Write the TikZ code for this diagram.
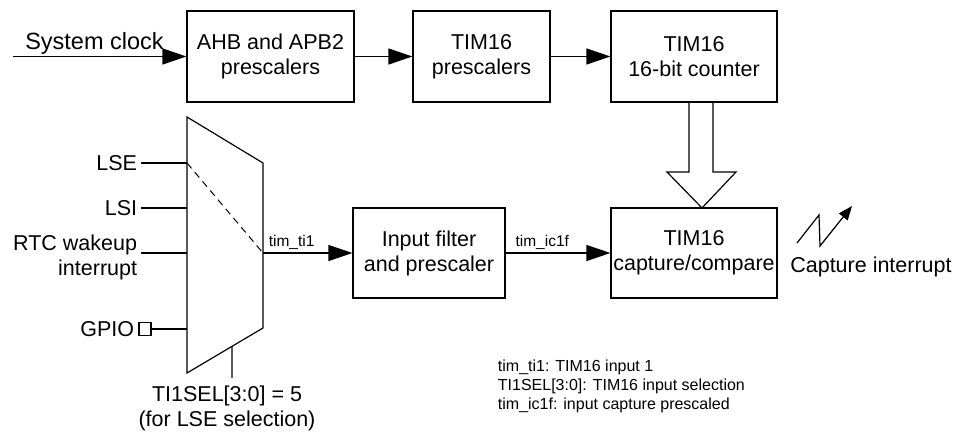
\documentclass[tikz,border=0pt]{standalone}
\usepackage{fontspec}
\setmainfont{Liberation Sans}
\usetikzlibrary{arrows.meta,calc}
\newcommand{\boxfont}{\fontsize{21.5}{25}\selectfont}
\newcommand{\notefont}{\fontsize{15.5}{19}\selectfont}
\tikzset{
  blk/.style={draw,align=center,inner sep=2pt,font=\boxfont},
  lbl/.style={align=center,font=\boxfont},
  sig/.style={font=\notefont,inner sep=3pt}
}
\begin{document}
\begin{tikzpicture}[x=1pt,y=-1pt,line width=1.2pt,>={Triangle[length=24pt,width=16pt]}]
\useasboundingbox (0,0) rectangle (959,435);
% clock chain
\node[blk,minimum width=167pt,minimum height=91pt] (ahb) at (270.5,56.5) {AHB and APB2\\prescalers};
\node[blk,minimum width=137pt,minimum height=91pt] (psc) at (481.5,56.5) {TIM16\\prescalers};
\node[blk,minimum width=166pt,minimum height=91pt] (cnt) at (694,56.5) {TIM16\\16-bit counter};
\coordinate (clkin) at (13,56.5);
\draw[->] (clkin) -- (ahb) node[pos=0.47,above,inner sep=2pt,font=\fontsize{23.5}{27}\selectfont] {System clock};
\draw[->] (ahb) -- (psc);
\draw[->] (psc) -- (cnt);
% input multiplexer
\coordinate (m1) at (187,117);
\coordinate (m2) at (263,163);
\coordinate (m3) at (263,328);
\coordinate (m4) at (187,373);
\draw (m1) -- (m2) -- (m3) -- (m4) -- cycle;
\coordinate (lse) at (187,163);
\coordinate (lsi) at (187,208);
\coordinate (rtc) at (187,253);
\coordinate (gpin) at (187,329);
\coordinate (muxout) at (263,253);
\draw[dashed,dash pattern=on 7pt off 5pt,line width=1pt] (lse) -- (muxout);
\node[lbl,anchor=east] (lsel) at (141,163) {LSE};
\node[lbl,anchor=east] (lsil) at (141,208) {LSI};
\node[lbl,anchor=east,align=right] (rtcl) at (141,257) {RTC wakeup\\interrupt};
\node[draw,minimum width=12pt,minimum height=13pt,inner sep=0pt] (gpio) at (145,329) {};
\node[lbl,anchor=east] (gpiol) at (138,329) {GPIO};
\draw (lsel.east) -- (lse);
\draw (lsil.east) -- (lsi);
\draw (rtcl.east |- rtc) -- (rtc);
\draw (gpio) -- (gpin);
% selection input
\coordinate (selpt) at ($(m3)!0.408!(m4)$);
\coordinate (selend) at (232,378);
\draw (selpt) -- (selend);
\node[lbl] (sel) at (227,408.5) {TI1SEL[3:0] = 5\\(for LSE selection)};
% capture path
\node[blk,minimum width=152pt,minimum height=90pt] (filt) at (429,253) {Input filter\\and prescaler};
\node[blk,minimum width=166pt,minimum height=90pt] (cap) at (694,253) {TIM16\\capture/compare};
\draw[->] (muxout) -- (filt) node[pos=0.32,above,sig] {tim\_ti1};
\draw[->] (filt) -- (cap) node[pos=0.35,above,sig] {tim\_ic1f};
% counter bus
\draw (689,102) -- (689,172) -- (667,172) -- (702,208) -- (736,172) -- (713,172) -- (713,102);
% interrupt
\node[lbl] (irq) at (871,267) {Capture interrupt};
\draw[-{Triangle[length=14pt,width=11pt]}] (797,243) -- (819,215) -- (820,246) -- (852,206);
\node[align=left,anchor=west,font=\fontsize{16}{19}\selectfont] (legend) at (494,386)
  {tim\_ti1: TIM16 input 1\\TI1SEL[3:0]: TIM16 input selection\\tim\_ic1f: input capture prescaled};
\end{tikzpicture}
\end{document}
